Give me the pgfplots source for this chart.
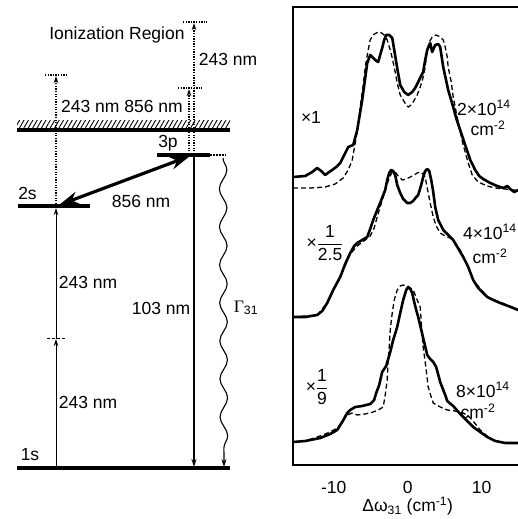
\documentclass[border=0pt]{standalone}
\usepackage{pgfplots}
\pgfplotsset{compat=1.18}
\usepackage{amsmath}
\usepackage{fontspec}
\setmainfont{Liberation Sans}
\newfontfamily\seriffont{Liberation Serif}
\usetikzlibrary{arrows.meta,patterns.meta,decorations.pathmorphing}
\newcommand\fs{\fontsize{17.5}{19}\selectfont}
\begin{document}
\begin{tikzpicture}[font=\fs]
\useasboundingbox (0,0) rectangle (518pt,519pt);
% ---------- energy-level diagram (coordinates in picture pixels, y downward)
\begin{axis}[at={(0pt,0pt)}, anchor=south west, scale only axis,
  width=518pt, height=519pt, xmin=0, xmax=518, ymin=0, ymax=519,
  y dir=reverse, axis lines=none, clip=false]
% hatched ionization limit
\addplot[draw=none, pattern={Lines[angle=60,distance=3.8pt,line width=0.9pt]}]
  coordinates {(17,121) (230,121) (230,130) (17,130)};
\addplot[line width=4pt] coordinates {(17,130) (230,130)};
% levels
\addplot[line width=4pt] coordinates {(17,468) (230,468)};
\addplot[line width=3.5pt] coordinates {(18,206) (90,206)};
\addplot[line width=3.5pt] coordinates {(157,155) (210,155)};
\addplot[line width=2pt, dash pattern=on 1.5pt off 1.5pt] coordinates {(210,155) (226,155)};
% two-photon 243 nm excitation
\addplot[line width=0.9pt, -{Stealth[length=7pt,width=4.5pt]}] coordinates {(56,467) (56,339)};
\addplot[line width=0.9pt, -{Stealth[length=7pt,width=4.5pt]}] coordinates {(56,339) (56,208)};
\addplot[line width=1pt, dash pattern=on 3pt off 2pt] coordinates {(47,338) (65,338)};
% ionization arrows (dotted)
\addplot[line width=1.3pt, dash pattern=on 1.3pt off 1.3pt, -{Stealth[length=7pt,width=4.5pt]}] coordinates {(56,204) (56,76)};
\addplot[line width=1.3pt, dash pattern=on 1.3pt off 1.3pt] coordinates {(45,75) (68,75)};
\addplot[line width=1.3pt, dash pattern=on 1.3pt off 1.3pt, -{Stealth[length=7pt,width=4.5pt]}] coordinates {(189,154) (189,89)};
\addplot[line width=1.3pt, dash pattern=on 1.3pt off 1.3pt] coordinates {(178,88) (202,88)};
\addplot[line width=1.3pt, dash pattern=on 1.3pt off 1.3pt, -{Stealth[length=7pt,width=4.5pt]}] coordinates {(194,154) (194,23)};
\addplot[line width=1.3pt, dash pattern=on 1.3pt off 1.3pt] coordinates {(183,22) (207,22)};
% 103 nm decay
\addplot[line width=1.4pt, -{Stealth[length=8pt,width=5pt]}] coordinates {(194,157) (194,467)};
% wavy Gamma_31
\addplot[line width=1.1pt, decorate,
  decoration={snake, amplitude=3.8pt, segment length=38pt, post length=8pt},
  -{Stealth[length=8pt,width=5pt]}] coordinates {(223,158) (224,467)};
% 856 nm coupling (double arrow)
\addplot[line width=3.2pt, {Stealth[length=20pt,width=13pt]}-{Stealth[length=20pt,width=13pt]}]
  coordinates {(59,205) (190,156)};
% labels
\node at (axis cs:117,35) {Ionization Region};
\node at (axis cs:228,59) {243 nm};
\node at (axis cs:122,106) {243 nm 856 nm};
\node at (axis cs:168,143) {3p};
\node at (axis cs:27.5,193) {2s};
\node at (axis cs:141,201) {856 nm};
\node at (axis cs:88,282) {243 nm};
\node at (axis cs:161,308) {103 nm};
\node at (axis cs:246,308) {{\seriffont Γ}\textsubscript{31}};
\node at (axis cs:88,402) {243 nm};
\node at (axis cs:30,455) {1s};
% labels of the spectra
\node at (axis cs:311,117) {×1};
\node at (axis cs:484,108) {2×10\textsuperscript{14}};
\node at (axis cs:488,128) {cm\textsuperscript{-2}};
\node at (axis cs:325,243) {×$\dfrac{\text{1}}{\text{2.5}}$};
\node at (axis cs:490,232) {4×10\textsuperscript{14}};
\node at (axis cs:490,256) {cm\textsuperscript{-2}};
\node at (axis cs:317,387) {×$\dfrac{\text{1}}{\text{9}}$};
\node at (axis cs:483,390) {8×10\textsuperscript{14}};
\node at (axis cs:478,411) {cm\textsuperscript{-2}};
\end{axis}
% ---------- spectra
\begin{axis}[at={(293pt,54pt)}, anchor=south west, scale only axis,
  width=229.4pt, height=458pt, xmin=-15.5, xmax=15.5, ymin=0, ymax=458,
  axis line style={line width=2.8pt},
  xtick={-10,0,10}, xticklabels={-10,0,10}, ytick=\empty, major tick length=0pt,
  xticklabel style={font=\fs, anchor=center, yshift=-22pt},
  xlabel={Δω\textsubscript{31} (cm\textsuperscript{-1})},
  xlabel style={font=\fs, at={(axis description cs:0.5,0)}, anchor=center, yshift=-41pt}]
% top: 2e14, x1
\addplot[line width=2.6pt, line join=round] coordinates {
(-15.47,288) (-13.85,289) (-12.91,293) (-12.23,297) (-11.69,294) (-11.15,290)
(-10.61,293) (-10.20,295) (-9.66,298) (-9.12,302) (-8.58,310) (-8.04,318)
(-7.36,320) (-6.82,335) (-6.42,353) (-6.15,365) (-5.74,387) (-5.47,402)
(-5.07,410) (-4.66,407) (-4.39,405) (-3.99,403) (-3.72,410) (-3.45,417)
(-3.18,425) (-2.91,430) (-2.50,430) (-2.09,427) (-1.82,415) (-1.42,397)
(-1.01,380) (-0.47,373) (0.07,370) (0.61,373) (1.01,377) (1.55,385)
(2.09,393) (2.36,405) (2.64,415) (3.04,422) (3.31,413) (3.72,420)
(4.12,421) (4.39,418) (4.80,398) (5.47,375) (6.15,358) (6.55,347)
(7.09,335) (7.77,320) (8.45,305) (9.12,295) (9.66,289) (10.20,286)
(11.15,282) (12.09,279) (12.91,277) (13.45,279) (13.85,276) (14.39,273)
(14.93,275) (15.47,273)};
\addplot[line width=1.3pt, dash pattern=on 5pt off 3pt] coordinates {
(-15.47,277) (-13.18,277) (-11.15,278) (-9.80,281) (-8.72,287) (-8.04,295)
(-7.50,305) (-7.09,322) (-6.69,340) (-6.42,358) (-6.01,380) (-5.74,398)
(-5.34,415) (-5.07,425) (-4.66,430) (-4.26,432) (-3.72,433) (-3.18,430)
(-2.77,425) (-2.36,415) (-2.09,407) (-1.69,393) (-1.42,382) (-1.01,370)
(-0.61,365) (-0.20,360) (0.07,358) (0.47,360) (0.74,363) (1.28,370)
(1.69,378) (2.09,388) (2.36,398) (2.64,415) (2.91,423) (3.31,428)
(3.85,430) (4.39,428) (4.80,425) (5.07,418) (5.34,408) (5.47,398)
(5.88,383) (6.15,368) (6.55,353) (6.96,338) (7.50,320) (8.18,302)
(8.72,290) (9.53,283) (10.74,279) (11.82,277) (13.18,276) (15.47,274)};
% middle: 4e14, x1/2.5
\addplot[line width=2.6pt, line join=round] coordinates {
(-15.47,148) (-13.85,148) (-12.23,150) (-11.55,154) (-10.88,162) (-10.07,175)
(-9.12,188) (-8.45,201) (-7.77,212) (-7.23,219) (-6.82,222) (-6.15,225)
(-5.47,228) (-5.07,236) (-4.66,245) (-4.12,255) (-3.72,262) (-3.31,270)
(-3.04,275) (-2.77,285) (-2.50,292) (-2.23,295) (-1.96,294) (-1.69,290)
(-1.42,280) (-1.01,272) (-0.61,266) (-0.07,262) (0.34,262) (0.74,264)
(1.15,268) (1.42,270) (1.82,280) (2.09,288) (2.36,294) (2.64,296)
(2.91,294) (3.18,285) (3.45,273) (3.72,258) (4.12,245) (4.80,235)
(6.15,225) (7.50,208) (8.18,198) (8.85,185) (9.53,177) (10.74,168)
(11.55,165) (12.50,162) (13.58,159) (14.93,155) (15.47,154)};
\addplot[line width=1.3pt, dash pattern=on 5pt off 3pt] coordinates {
(-15.47,148) (-12.23,150) (-10.88,162) (-9.12,188) (-7.77,211) (-6.82,219)
(-5.74,225) (-5.07,229) (-4.53,237) (-4.12,248) (-3.72,258) (-3.31,268)
(-2.91,278) (-2.50,287) (-2.09,293) (-1.69,293) (-1.28,289) (-0.74,285)
(-0.20,286) (0.34,288) (0.88,290) (1.28,292) (1.69,293) (2.09,291)
(2.36,288) (2.77,272) (3.04,262) (3.45,248) (3.85,239) (4.39,232)
(5.07,229) (5.74,227) (6.42,222) (7.09,215) (8.04,200) (8.85,185)
(10.74,168) (15.47,154)};
% bottom: 8e14, x1/9
\addplot[line width=2.6pt, line join=round] coordinates {
(-15.47,23) (-13.85,24) (-11.82,27) (-10.47,31) (-9.53,35) (-8.85,43)
(-8.18,52) (-7.77,55) (-7.09,58) (-6.15,59) (-5.07,61) (-4.53,65)
(-4.26,72) (-3.85,80) (-3.45,93) (-2.91,99) (-2.36,113) (-1.96,125)
(-1.42,138) (-1.01,152) (-0.61,165) (-0.20,175) (0.07,178) (0.34,176)
(0.61,172) (0.88,163) (1.15,155) (1.42,148) (2.09,127) (2.64,110)
(3.04,106) (3.45,103) (3.85,98) (4.39,83) (5.07,70) (5.34,64)
(6.15,59) (7.09,51) (7.91,45) (8.85,38) (9.80,33) (10.74,28)
(11.82,24) (13.18,22) (15.47,22)};
\addplot[line width=1.3pt, dash pattern=on 5pt off 3pt] coordinates {
(-15.47,23) (-13.85,24) (-12.23,28) (-10.47,33) (-9.53,37) (-8.85,43)
(-8.18,50) (-7.50,52) (-6.82,50) (-5.74,51) (-4.66,53) (-3.99,55)
(-3.31,58) (-3.04,70) (-2.77,85) (-2.64,105) (-2.50,118) (-2.36,135)
(-2.09,152) (-1.82,165) (-1.42,175) (-1.01,179) (-0.61,180) (-0.20,179)
(0.34,177) (0.74,175) (1.28,165) (1.69,158) (1.82,145) (1.96,130)
(2.09,118) (2.50,95) (2.77,78) (3.18,68) (3.45,62) (4.39,58)
(5.34,55) (6.42,54) (7.50,52) (8.18,49) (8.72,45) (9.26,40)
(9.80,35) (10.74,29) (11.55,25) (13.18,22) (15.47,22)};
\end{axis}
\end{tikzpicture}
\end{document}
